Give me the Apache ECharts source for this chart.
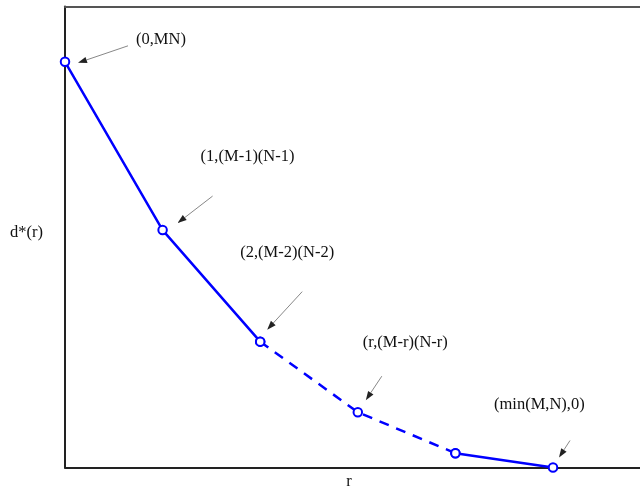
<!DOCTYPE html>
<html><head><meta charset="utf-8">
<script src="https://cdn.jsdelivr.net/npm/echarts@6/dist/echarts.min.js"></script>
<style>html,body{margin:0;padding:0;background:#fff}#c{width:640px;height:489px}</style>
</head><body><div id="c"></div>
<script>
// data
var rValues = [0, 1, 2, 3, 4, 5];
var dValues = [88.0, 51.5, 27.3, 12.0, 3.1, 0];
var pointLabels = ['(0,MN)', '(1,(M-1)(N-1)', '(2,(M-2)(N-2)', '(r,(M-r)(N-r)', null, '(min(M,N),0)'];
var xName = 'r';
var yName = 'd*(r)';

var solidA = [0,1,2].map(function(i){return [rValues[i], dValues[i]];});
var dashed = [2,3,4].map(function(i){return [rValues[i], dValues[i]];});
var solidB = [4,5].map(function(i){return [rValues[i], dValues[i]];});

var FONT = '"Liberation Serif", "DejaVu Serif", serif';
var chart = echarts.init(document.getElementById('c'), null, {renderer: 'canvas'});
var blue = '#0000ff';
function ser(data, type) {
  return {
    type: 'line', data: data, symbol: 'circle', symbolSize: 8.5, showSymbol: true,
    itemStyle: {color: '#fff', borderColor: blue, borderWidth: 2},
    lineStyle: {color: blue, width: 2.5, type: type === 'dashed' ? [10, 8] : 'solid'},
    animation: false, z: 3
  };
}
var hiddenAxis = {axisTick: {show: false}, axisLabel: {show: false}, splitLine: {show: false}};
chart.setOption({
  backgroundColor: '#fff',
  animation: false,
  grid: {left: 65, top: 6.5, width: 585.6, height: 461, outerBoundsMode: 'none', containLabel: false},
  xAxis: [
    Object.assign({type: 'value', min: 0, max: 6, position: 'bottom', axisLine: {show: true, onZero: false, lineStyle: {color: '#222', width: 2}}}, hiddenAxis),
    Object.assign({type: 'value', min: 0, max: 6, position: 'top', axisLine: {show: true, onZero: false, lineStyle: {color: '#555', width: 2}}}, hiddenAxis)
  ],
  yAxis: Object.assign({type: 'value', min: 0, max: 100, axisLine: {show: true, onZero: false, lineStyle: {color: '#222', width: 2}}}, hiddenAxis),
  series: [ser(solidA, 'solid'), ser(dashed, 'dashed'), ser(solidB, 'solid')]
});

// annotation layout offsets (pixels, relative to each point)
var annot = {
  0: {tx: 71, ty: -22, from: [63, -16], to: [13, 1]},
  1: {tx: 38, ty: -73, from: [50, -34], to: [15, -7]},
  2: {tx: -20, ty: -89, from: [42, -50], to: [7, -12]},
  3: {tx: 5, ty: -70, from: [24, -36], to: [8, -12]},
  5: {tx: -59, ty: -63, from: [17, -27], to: [6, -10]}
};
var g = [];
rValues.forEach(function(r, i) {
  if (!pointLabels[i]) return;
  var p = chart.convertToPixel({xAxisIndex: 0, yAxisIndex: 0}, [r, dValues[i]]);
  var a = annot[i];
  g.push({type: 'text', style: {text: pointLabels[i], x: p[0] + a.tx, y: p[1] + a.ty, font: '16.5px ' + FONT, fill: '#111', textVerticalAlign: 'middle'}});
  var x1 = p[0] + a.from[0], y1 = p[1] + a.from[1], x2 = p[0] + a.to[0], y2 = p[1] + a.to[1];
  var ang = Math.atan2(y2 - y1, x2 - x1), L = 9, W = 3.2;
  var bx = x2 - L * Math.cos(ang), by = y2 - L * Math.sin(ang);
  g.push({type: 'line', shape: {x1: x1, y1: y1, x2: bx, y2: by}, style: {stroke: '#888', lineWidth: 1}});
  g.push({type: 'polygon', shape: {points: [[x2, y2], [bx + W * Math.sin(ang), by - W * Math.cos(ang)], [bx - W * Math.sin(ang), by + W * Math.cos(ang)]]}, style: {fill: '#222'}});
});
var origin = chart.convertToPixel({xAxisIndex: 0, yAxisIndex: 0}, [0, 0]);
var topP = chart.convertToPixel({xAxisIndex: 0, yAxisIndex: 0}, [0, 100]);
g.push({type: 'text', style: {text: yName, x: 10, y: (origin[1] + topP[1]) / 2 - 4, font: '16.5px ' + FONT, fill: '#111', textVerticalAlign: 'middle'}});
g.push({type: 'text', style: {text: xName, x: 349, y: origin[1] + 14, font: '16.5px ' + FONT, fill: '#111', textAlign: 'center', textVerticalAlign: 'middle'}});
chart.setOption({graphic: g});
</script>
</body></html>
